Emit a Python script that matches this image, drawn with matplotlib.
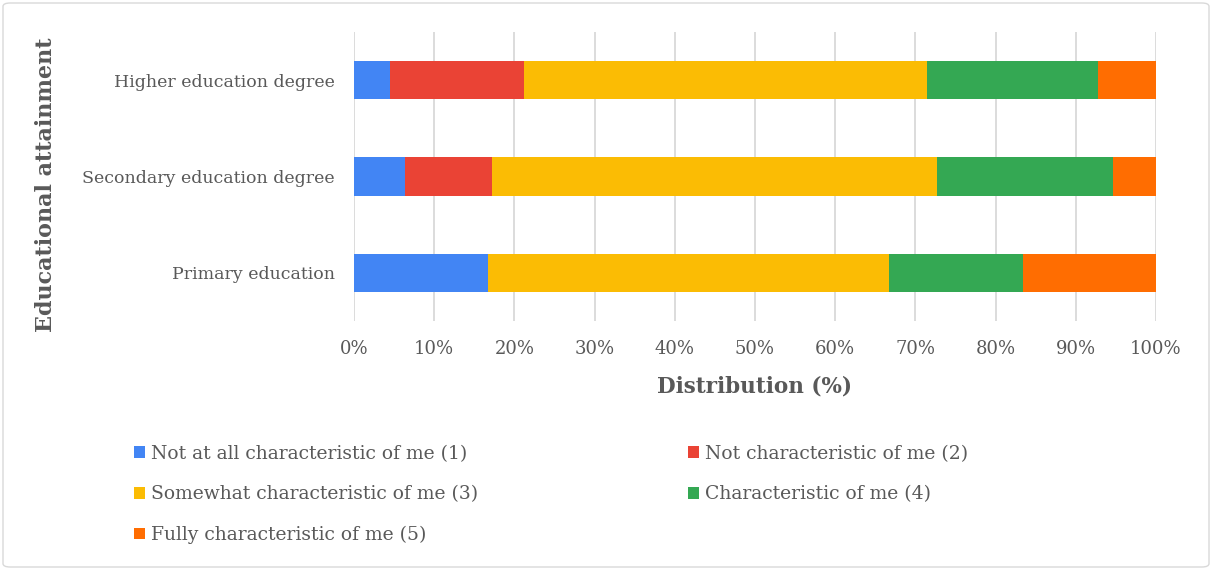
import matplotlib.pyplot as plt
from matplotlib.patches import FancyBboxPatch, Patch
from matplotlib.ticker import PercentFormatter

plt.rcParams['font.family'] = ['DejaVu Serif']

# data (percent of respondents per educational level)
categories = ['Primary education', 'Secondary education degree', 'Higher education degree']
not_at_all = [16.7, 6.3, 4.5]
not_char = [0.0, 10.9, 16.7]
somewhat = [50.0, 55.5, 50.3]
char = [16.7, 21.9, 21.3]
fully = [16.6, 5.4, 7.2]

series = [not_at_all, not_char, somewhat, char, fully]
labels = ['Not at all characteristic of me (1)', 'Not characteristic of me (2)',
          'Somewhat characteristic of me (3)', 'Characteristic of me (4)',
          'Fully characteristic of me (5)']
colors = ['#4285f4', '#ea4335', '#fbbc04', '#34a853', '#ff6d01']

fig = plt.figure(figsize=(12.12, 5.7), dpi=100)
ax = fig.add_axes([354 / 1212, 1 - 321 / 570, 802 / 1212, 289 / 570])

y = range(len(categories))
left = [0.0] * len(categories)
for vals, lab, col in zip(series, labels, colors):
    ax.barh(y, vals, left=left, height=0.4, color=col, label=lab, zorder=3)
    left = [l + v for l, v in zip(left, vals)]

ax.set_xlim(0, 100)
ax.set_ylim(-0.5, 2.5)
ax.set_xticks(range(0, 101, 10))
ax.xaxis.set_major_formatter(PercentFormatter(decimals=0))
ax.set_yticks(list(y))
ax.set_yticklabels(categories)
ax.grid(axis='x', color='#d9d9d9', linewidth=1.3, zorder=0)
for s in ax.spines.values():
    s.set_visible(False)
ax.tick_params(axis='y', length=0, labelsize=12.5, colors='#595959', pad=14)
ax.tick_params(axis='x', length=0, labelsize=13, colors='#595959', pad=14)

ax.set_xlabel('Distribution (%)', fontsize=15.5, fontweight='bold', color='#595959', labelpad=12)
fig.text(46 / 1212, 1 - 185 / 570, 'Educational attainment', rotation=90, ha='center', va='center',
         fontsize=16, fontweight='bold', color='#595959')

# legend, row-wise order like the original
h, l = ax.get_legend_handles_labels()
order = [0, 2, 4, 1, 3]
fig.legend([h[i] for i in order], [l[i] for i in order], ncol=2, frameon=False,
           loc='upper left', bbox_to_anchor=(117 / 1212, 1 - 428 / 570),
           fontsize=13.5, labelcolor='#595959', handlelength=0.6, handleheight=0.6,
           handletextpad=0.3, columnspacing=11.2, labelspacing=1.2)

fig.patches.append(FancyBboxPatch((3 / 1212, 3 / 570), 1206 / 1212, 564 / 570,
                                  boxstyle='round,pad=0,rounding_size=0.006',
                                  transform=fig.transFigure, fill=False,
                                  edgecolor='#d9d9d9', linewidth=1))

fig.savefig('out.png', dpi=100)
